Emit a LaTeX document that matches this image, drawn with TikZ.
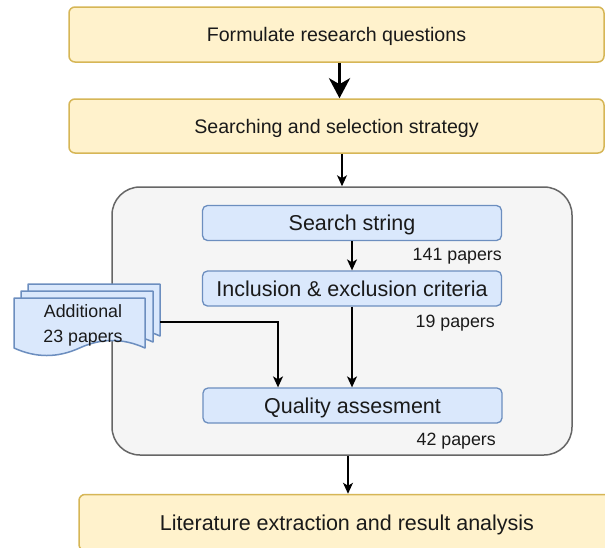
\documentclass[tikz,border=0pt]{standalone}
\usepackage{fontspec}
\setmainfont{Liberation Sans}
\usetikzlibrary{arrows.meta}
\definecolor{yfill}{HTML}{FFF2CC}
\definecolor{ydraw}{HTML}{D6B656}
\definecolor{bfill}{HTML}{DAE8FC}
\definecolor{bdraw}{HTML}{6C8EBF}
\definecolor{gfill}{HTML}{F5F5F5}
\definecolor{gdraw}{HTML}{666666}
\definecolor{txt}{HTML}{1A1A1A}
\newcommand{\mdocpage}[4]{%
  \draw[docpg] (#1,#2) -- (#3,#2) -- (#3,#4)
    .. controls ({#3-(#3-#1)/6},{#4-10}) and ({#3-(#3-#1)/3},{#4-10}) .. ({(#1+#3)/2},#4)
    .. controls ({(#1+#3)/2-(#3-#1)/6},{#4+10}) and ({(#1+#3)/2-(#3-#1)/3},{#4+10}) .. (#1,#4)
    -- cycle;}
\begin{document}
\begin{tikzpicture}[x=1pt,y=-1pt,
  ybox/.style={draw=ydraw, fill=yfill, line width=1.5pt, rounded corners=6pt,
    minimum width=535pt, inner sep=0pt, text=txt, text depth=0pt},
  bbox/.style={draw=bdraw, fill=bfill, line width=1.3pt, rounded corners=5pt,
    minimum width=299pt, minimum height=35pt, inner sep=0pt, text=txt,
    text height=15.5pt, text depth=0pt, font=\fontsize{21.5}{24}\selectfont},
  cont/.style={draw=gdraw, fill=gfill, line width=1.5pt, rounded corners=28pt,
    minimum width=460pt, minimum height=268pt, inner sep=0pt},
  lbl/.style={text=txt, font=\fontsize{17.8}{20}\selectfont, inner sep=0pt, anchor=east},
  docpg/.style={draw=bdraw, fill=bfill, line width=1.5pt, line join=round},
  arr/.style={line width=1.4pt, draw=black, -{Stealth[length=11pt,width=10pt,inset=3pt]}},
  arrthick/.style={line width=3.5pt, draw=black, -{Stealth[length=20pt,width=21pt,inset=6pt]}}]
\useasboundingbox (0,0) rectangle (605,547);
\clip (0,0) rectangle (605,547);
\fill[white] (0,0) rectangle (605,547);
% top boxes
\node[ybox, minimum height=55pt, text height=14.1pt, font=\fontsize{19.6}{22}\selectfont] (rq) at (336.5,34.5) {Formulate research questions};
\node[ybox, minimum height=54pt, text height=14.1pt, font=\fontsize{19.6}{22}\selectfont] (sel) at (336.5,126) {Searching and selection strategy};
% container
\node[cont] (box) at (342,321) {};
\node[bbox] (ss) at (352,223) {Search string};
\node[bbox] (ie) at (352,288.5) {Inclusion \& exclusion criteria};
\node[bbox] (qa) at (352.5,405.5) {Quality assesment};
\node[lbl] (l141) at (502,256) {141 papers};
\node[lbl] (l19) at (495,323) {19 papers};
\node[lbl] (l42) at (496,441) {42 papers};
% bottom box
\node[ybox, minimum width=536pt, minimum height=56pt, text height=15.5pt, font=\fontsize{21.5}{24}\selectfont] (lx) at (347,522.5) {Literature extraction and result analysis};
% additional papers (multi-document)
\mdocpage{28}{284}{160}{336}
\mdocpage{21}{291}{153}{342}
\mdocpage{14}{298}{145}{348}
\node[text=txt, font=\fontsize{17.8}{25}\selectfont, align=center, inner sep=0pt] (add) at (83,325) {Additional\\23 papers};
\coordinate (addout) at (160,322);
\coordinate (drop) at (278,0);
% connectors
\draw[arrthick] ([xshift=3pt]rq.south) -- ([xshift=3pt]sel.north);
\draw[arr] (sel.south -| box.north) -- (box.north);
\draw[arr] (ss.south) -- (ie.north);
\draw[arr] (ie.south) -- (ie.south |- qa.north);
\draw[arr] (addout) -| (drop |- qa.north);
\draw[arr] ([xshift=6pt]box.south) -- ([xshift=6pt]box.south |- lx.north);
\end{tikzpicture}
\end{document}
